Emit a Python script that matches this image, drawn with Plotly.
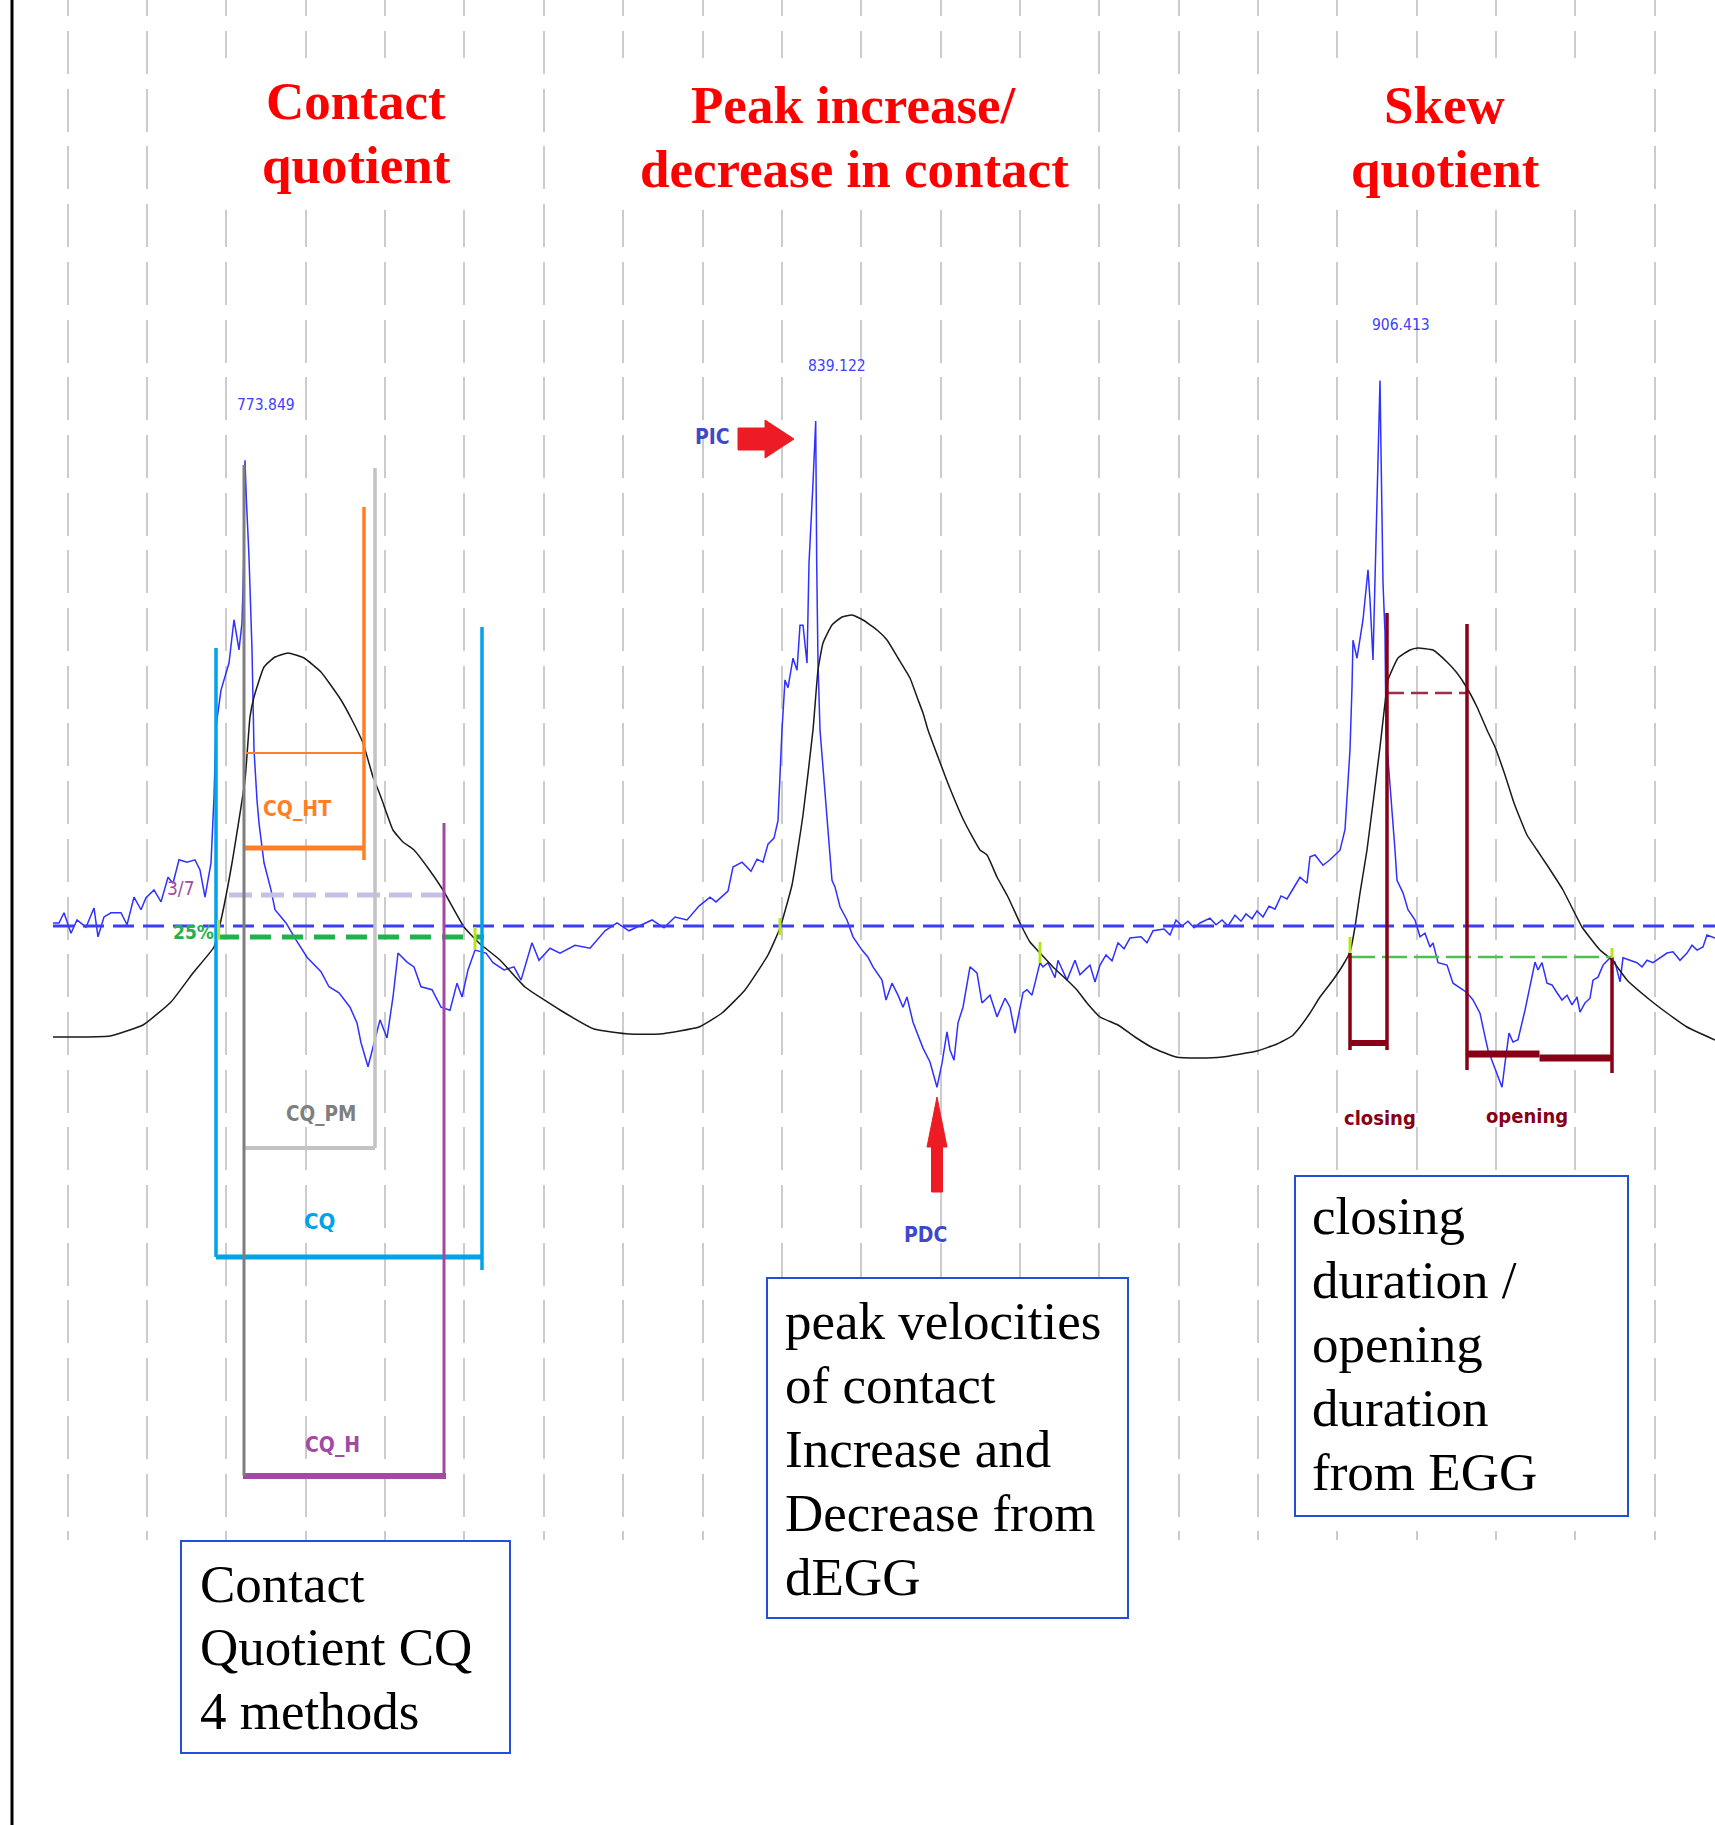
import plotly.graph_objects as go

FIG_W, FIG_H = 1715, 1825
PLOT_H = 1540  # height of the signal panel; the explanation boxes sit below it

# ---------------- signals ----------------
# dEGG (blue): sample index and amplitude
degg_x = [53, 59, 64, 71, 77, 86, 94, 98, 104, 111, 121, 127, 134, 141, 146, 154, 161, 168, 173,
          179, 187, 195, 200, 205, 211, 214, 216, 221, 229, 234, 239, 242, 243.6, 245, 246.4, 249,
          252, 254, 257, 259, 264, 271, 275, 286, 296, 307, 321, 329, 339, 350, 357, 361, 368, 373,
          380, 387, 393, 398, 407, 414, 421, 432, 441, 450, 457, 462, 468, 475, 486, 493, 504, 514,
          521, 532, 539, 550, 560, 575, 590, 605, 617, 629, 640, 652, 664, 675, 687, 699, 710, 716,
          728, 733, 742, 751, 757, 763, 768, 774, 778, 782, 785, 788, 793, 797, 800, 803, 807, 809,
          813, 815.7, 816.7, 818, 820, 830, 832, 835, 840, 847, 853, 862, 868, 873, 882, 886, 892,
          898, 903, 907, 913, 923, 930, 937, 942, 947, 950, 954, 958, 963, 970, 977, 982, 990, 997,
          1005, 1010, 1015, 1023, 1027, 1032, 1040, 1043, 1048, 1055, 1058, 1067, 1075, 1080, 1085,
          1090, 1095, 1100, 1106, 1112, 1118, 1124, 1130, 1141, 1147, 1153, 1164, 1170, 1176, 1182,
          1188, 1194, 1200, 1210, 1216, 1222, 1228, 1235, 1241, 1246, 1252, 1257, 1263, 1269, 1275,
          1281, 1287, 1292, 1300, 1307, 1310, 1315, 1323, 1330, 1340, 1345, 1350, 1352, 1353, 1357,
          1363, 1368, 1370, 1373, 1375, 1377, 1379, 1380, 1381, 1382, 1383, 1385, 1386, 1395, 1397,
          1403, 1408, 1415, 1420, 1425, 1430, 1433, 1438, 1447, 1453, 1463, 1467, 1473, 1480, 1485,
          1488, 1493, 1502, 1505, 1509, 1513, 1518, 1525, 1532, 1535, 1538, 1542, 1547, 1552, 1557,
          1562, 1567, 1572, 1577, 1580, 1585, 1590, 1593, 1598, 1603, 1610, 1615, 1620, 1623, 1630,
          1637, 1642, 1647, 1653, 1660, 1667, 1673, 1680, 1687, 1692, 1697, 1703, 1707, 1715]
degg_y = [5, 5, 22, -12, 10, -2, 30, -18, 15, 22, 22, 2, 48, 27, 47, 60, 40, 81, 71,
          110, 106, 110, 93, 48, 105, 214, 331, 392, 437, 509, 459, 504, 597, 773.849, 708, 613,
          459, 293, 209, 171, 105, 60, 27, 5, -23, -52, -76, -101, -111, -135, -161, -194, -234, -201,
          -156, -186, -118, -45, -60, -68, -101, -106, -135, -140, -95, -118, -73, -40, -45, -61, -73, -68,
          -90, -28, -57, -37, -45, -32, -37, -8, 5, -8, 0, 10, -3, 15, 10, 33, 48, 40,
          58, 98, 106, 91, 111, 106, 136, 146, 175, 326, 409, 396, 445, 425, 500, 500, 437, 603,
          736, 839.122, 603, 437, 326, 126, 76, 65, 32, 10, -18, -40, -52, -68, -90, -123, -95,
          -115, -135, -118, -160, -203, -226, -268, -228, -176, -206, -223, -161, -135, -68, -78, -128, -115, -151,
          -120, -135, -178, -111, -106, -115, -61, -68, -61, -86, -57, -90, -57, -81, -73,
          -65, -93, -65, -48, -58, -28, -38, -20, -18, -28, -8, -5, -15, 10, 0,
          8, -3, 5, 13, 2, 10, 0, 18, 8, 20, 12, 25, 15, 33, 28,
          50, 45, 58, 81, 71, 115, 118, 101, 110, 126, 160, 293, 397, 475, 445,
          509, 592, 542, 442, 580, 696, 863, 906.413, 791, 653, 570, 487, 321, 126, 76,
          55, 27, 10, -18, -12, -35, -28, -61, -65, -95, -106, -111, -123, -145, -184,
          -206, -228, -268, -228, -178, -193, -189, -140, -85, -60, -73, -61, -95, -98, -111,
          -123, -115, -131, -118, -143, -128, -120, -90, -85, -65, -53, -60, -93, -53, -57,
          -61, -68, -57, -61, -53, -45, -43, -57, -45, -32, -40, -35, -15, -20]

# EGG (black): sample index and amplitude
egg_x = [53, 80, 110, 143, 171, 193, 214, 221, 232, 245, 250, 254, 264, 275, 288, 304, 321, 341,
         352, 363, 373, 377, 382, 393, 403, 414, 428, 443, 464, 479, 500, 525, 560, 594, 629, 660,
         699, 722, 745, 768, 780, 792, 803, 813, 818, 823, 832, 842, 852, 863, 877, 887, 898, 910,
         917, 923, 928, 938, 949, 964, 980, 987, 997, 1008, 1020, 1030, 1040, 1053, 1067, 1077,
         1087, 1100, 1118, 1135, 1153, 1176, 1200, 1222, 1257, 1277, 1292, 1300, 1310, 1320, 1333,
         1343, 1350, 1355, 1360, 1367, 1380, 1385, 1388, 1398, 1410, 1418, 1433, 1447, 1457, 1467,
         1477, 1487, 1495, 1505, 1514, 1527, 1537, 1547, 1563, 1582, 1600, 1612, 1627, 1650, 1667,
         1687, 1715]
egg_y = [3, 3, 4, 15, 38, 67, 93, 120, 177, 260, 323, 343, 373, 383, 387, 382, 368, 340,
         320, 297, 263, 253, 240, 210, 198, 190, 172, 150, 113, 97, 80, 53, 30, 11, 6, 6,
         13, 27, 50, 85, 112, 155, 225, 310, 370, 397, 415, 423, 425, 420, 410, 400, 382, 362,
         343, 327, 310, 283, 254, 219, 190, 185, 163, 143, 117, 98, 87, 73, 60, 50,
         37, 23, 15, 3, -8, -17, -18, -17, -11, -4, 4, 13, 27, 43, 60,
         75, 88, 113, 147, 190, 293, 337, 360, 382, 390, 392, 390, 378, 367, 352,
         333, 310, 293, 265, 237, 205, 190, 175, 150, 113, 90, 80, 60, 40, 27,
         13, 0]

# glottal cycles (sample ranges)
cycle_start = [53, 560, 1100]
cycle_end = [560, 1100, 1715]

# contact-quotient methods on cycle 1 (contact start / end sample)
cq_labels = ["CQ_HT", "CQ_PM", "CQ", "CQ_H"]
cq_open = [245, 245, 216, 244]
cq_close = [364, 375, 482, 444]

# EGG threshold criteria on cycle 1
thr_labels = ["3/7", "25%"]
thr_level = [145, 103]
thr_from = [229, 218]
thr_to = [443, 484]
ht_level = 287

# skew quotient on cycle 3
closing_from, closing_to = 1350, 1387
opening_from, opening_to = 1467, 1612
sq_low_level = 83
sq_high_level = 347

# threshold crossing markers
cross_x = [218.6, 475, 780, 1040, 1350, 1612]
cross_lo = [100, 90, 105, 77, 87, 82]
cross_hi = [120, 113, 122, 98, 103, 92]

# ---------------- styling ----------------
SERIF = "Liberation Serif, Times New Roman, serif"
NARROW = "Liberation Sans Narrow, Arial Narrow, DejaVu Sans Condensed, sans-serif"
BLUE_TRACE = "#3030ff"
EGG_COLOR = "#1a1a1a"
TURQ = "#00a2e8"
ORANGE = "#ff7f27"
PURPLE = "#a349a4"
GRAY = "#7f7f7f"
LGRAY = "#c3c3c3"
LAVENDER = "#c8bfe7"
GREEN = "#22b14c"
DARKRED = "#880015"
INDIGO = "#3f48cc"
RED = "#ed1c24"
LIME = "#b5e61d"
BOX_BLUE = "#2050d8"

GRID_DASH = "16px,15px," + ",".join(["43px,14.7px"] * 27)


def px_x(px):
    return px / FIG_W


def px_y(py):
    return 1 - py / PLOT_H


fig = go.Figure()
fig.add_trace(go.Scatter(x=egg_x, y=egg_y, yaxis="y2", mode="lines",
                         line=dict(color=EGG_COLOR, width=1.5, shape="spline", smoothing=0.4),
                         hoverinfo="skip"))
fig.add_trace(go.Scatter(x=degg_x, y=degg_y, mode="lines",
                         line=dict(color=BLUE_TRACE, width=1.5), hoverinfo="skip"))

shapes = []
annotations = []


def seg(x0, y0, x1, y1, color, width, dash="solid", yref="y2"):
    shapes.append(dict(type="line", xref="x", yref=yref, x0=x0, y0=y0, x1=x1, y1=y1,
                       line=dict(color=color, width=width, dash=dash), layer="above"))


def label(text, x, y, color, size, family=NARROW, yref="y2", bold=True):
    annotations.append(dict(text=f"<b>{text}</b>" if bold else text, x=x, y=y, xref="x", yref=yref,
                            showarrow=False, xanchor="center", yanchor="middle",
                            font=dict(family=family, size=size, color=color)))


# left border of the panel
shapes.append(dict(type="line", xref="paper", yref="paper", x0=px_x(12), x1=px_x(12),
                   y0=1, y1=px_y(FIG_H), line=dict(color="black", width=3), layer="above"))

# dEGG zero line
seg(degg_x[0], 0, degg_x[-1], 0, "#3c3cff", 3, "21px,9px", yref="y")

# EGG thresholds (cycle 1)
seg(thr_from[0], thr_level[0], thr_to[0], thr_level[0], LAVENDER, 5, "23px,9px")
seg(thr_from[1], thr_level[1], thr_to[1], thr_level[1], GREEN, 5, "21px,11px")
label(thr_labels[0], 181, 152, PURPLE, 19, bold=False)
label(thr_labels[1], 193, 108, GREEN, 19)

# CQ_HT (orange)
seg(cq_open[0] + 1, ht_level, cq_close[0], ht_level, ORANGE, 2)
seg(cq_close[0], 533, cq_close[0], 180, ORANGE, 3.5)
seg(cq_open[0], 192, cq_close[0], 192, ORANGE, 5)
label(cq_labels[0], 297, 231, ORANGE, 21)

# CQ_PM (light gray)
seg(cq_close[1], 572, cq_close[1], -108, LGRAY, 3.5)
seg(cq_open[1], -108, cq_close[1], -108, LGRAY, 4)
label(cq_labels[1], 321, -74, GRAY, 20.5)

# CQ (turquoise)
seg(cq_open[2], 392, cq_open[2], -217, TURQ, 3.5)
seg(cq_close[2], 413, cq_close[2], -230, TURQ, 3.5)
seg(cq_open[2], -217, cq_close[2] + 1, -217, TURQ, 5)
label(cq_labels[2], 319, -181, TURQ, 22)

# CQ_H (purple, with the gray contact-onset line)
seg(cq_close[3], 217, cq_close[3], -436, PURPLE, 3)
seg(cq_open[3] - 1, -436, cq_close[3] + 2, -436, PURPLE, 6)
seg(cq_open[3], 575, cq_open[3], -436, GRAY, 3)
label(cq_labels[3], 332, -405, PURPLE, 21)

# skew quotient brackets (cycle 3)
seg(closing_from, sq_low_level, opening_to, sq_low_level, "#50be55", 2.5, "25px,7px")
seg(closing_to, sq_high_level, opening_from, sq_high_level, "#9e2f45", 2.5, "17px,7px")
seg(closing_from, sq_low_level + 4, closing_from, -10, DARKRED, 3.5)
seg(closing_to, 427, closing_to, -10, DARKRED, 3.5)
seg(closing_from, -3, closing_to, -3, DARKRED, 6)
seg(opening_from, 416, opening_from, -30, DARKRED, 3.5)
seg(opening_to, sq_low_level, opening_to, -33, DARKRED, 3.5)
seg(opening_from, -14, (opening_from + opening_to) / 2, -14, DARKRED, 7)
seg((opening_from + opening_to) / 2, -18, opening_to, -18, DARKRED, 7)
label("closing", 1380, -78, DARKRED, 20)
label("opening", 1527, -76, DARKRED, 20)

# threshold crossing markers
for cx, lo, hi in zip(cross_x, cross_lo, cross_hi):
    seg(cx, lo, cx, hi, LIME, 3)

# peak values of the dEGG per cycle
for a, b in zip(cycle_start, cycle_end):
    idx = [i for i, x in enumerate(degg_x) if a <= x < b]
    imax = max(idx, key=lambda i: degg_y[i])
    annotations.append(dict(text=f"{degg_y[imax]:.3f}", x=degg_x[imax] + 21, y=degg_y[imax] + 92,
                            xref="x", yref="y", showarrow=False, xanchor="center", yanchor="middle",
                            font=dict(family=NARROW, size=15.5, color="#4040ff")))

# PIC / PDC arrows (block arrows)
pic_tip_x, pic_tip_y = 794, 601
pic_path = (f"M{pic_tip_x - 56},{pic_tip_y + 11} L{pic_tip_x - 29},{pic_tip_y + 11} "
            f"L{pic_tip_x - 29},{pic_tip_y + 19} L{pic_tip_x},{pic_tip_y} "
            f"L{pic_tip_x - 29},{pic_tip_y - 19} L{pic_tip_x - 29},{pic_tip_y - 11} "
            f"L{pic_tip_x - 56},{pic_tip_y - 11} Z")
pdc_tip_x, pdc_tip_y = 937, -57
pdc_path = (f"M{pdc_tip_x},{pdc_tip_y} L{pdc_tip_x + 10},{pdc_tip_y - 50} "
            f"L{pdc_tip_x + 5.5},{pdc_tip_y - 50} L{pdc_tip_x + 5.5},{pdc_tip_y - 95} "
            f"L{pdc_tip_x - 5.5},{pdc_tip_y - 95} L{pdc_tip_x - 5.5},{pdc_tip_y - 50} "
            f"L{pdc_tip_x - 10},{pdc_tip_y - 50} Z")
for p in (pic_path, pdc_path):
    shapes.append(dict(type="path", xref="x", yref="y2", path=p, fillcolor=RED,
                       line=dict(color=RED, width=1), layer="above"))
label("PIC", 712, 603, INDIGO, 21)
label("PDC", 925, -195, INDIGO, 21)

# title panels (white backing over the grid)
for x0, x1 in [(205, 505), (615, 1092), (1294, 1596)]:
    shapes.append(dict(type="rect", xref="paper", yref="paper", x0=px_x(x0), x1=px_x(x1),
                       y0=px_y(210), y1=px_y(58), fillcolor="white", line=dict(width=0),
                       layer="above"))

titles = [("Contact", 356, 119), ("quotient", 356, 183),
          ("Peak increase/", 854, 123), ("decrease in contact", 854, 187),
          ("Skew", 1444, 123), ("quotient", 1445, 187)]
TITLE_SIZE = 53
for text, cx, base in titles:
    annotations.append(dict(text=f"<b>{text}</b>", x=px_x(cx), y=px_y(base - 0.3375 * TITLE_SIZE),
                            xref="paper", yref="paper", showarrow=False,
                            xanchor="center", yanchor="middle",
                            font=dict(family=SERIF, size=TITLE_SIZE, color="#ff0000")))

# explanation boxes
boxes = [
    ((181, 1541, 510, 1753), 198, [1602, 1665, 1729],
     ["Contact", "Quotient CQ", "4 methods"]),
    ((767, 1278, 1128, 1618), 783, [1339, 1403, 1467, 1531, 1595],
     ["peak velocities", "of contact", "Increase and", "Decrease from", "dEGG"]),
    ((1295, 1176, 1628, 1516), 1310, [1234, 1298, 1362, 1426, 1490],
     ["closing", "duration /", "opening", "duration", "from EGG"]),
]
BOX_SIZE = 53
for (bx0, by0, bx1, by1), tx, bases, lines in boxes:
    shapes.append(dict(type="rect", xref="paper", yref="paper", x0=px_x(bx0), x1=px_x(bx1),
                       y0=px_y(by1), y1=px_y(by0), fillcolor="white",
                       line=dict(color=BOX_BLUE, width=2), layer="above"))
    for text, base in zip(lines, bases):
        annotations.append(dict(text=text, x=px_x(tx), y=px_y(base - 0.3375 * BOX_SIZE),
                                xref="paper", yref="paper", showarrow=False,
                                xanchor="left", yanchor="middle",
                                font=dict(family=SERIF, size=BOX_SIZE, color="black")))

fig.update_layout(
    width=FIG_W, height=FIG_H,
    margin=dict(l=0, r=0, t=0, b=FIG_H - PLOT_H, pad=0),
    paper_bgcolor="white", plot_bgcolor="white", showlegend=False,
    xaxis=dict(range=[0, FIG_W], showgrid=True, gridcolor="#cccccc", gridwidth=1.5,
               griddash=GRID_DASH, tick0=67.7, dtick=79.35, showticklabels=False,
               ticks="", zeroline=False, showline=False, fixedrange=True),
    yaxis=dict(range=[-1020.5, 1539.0], visible=False, fixedrange=True),
    yaxis2=dict(range=[-500, 1040], overlaying="y", visible=False, fixedrange=True),
    shapes=shapes, annotations=annotations,
)

fig.write_html("out.html", config={"displayModeBar": False})
